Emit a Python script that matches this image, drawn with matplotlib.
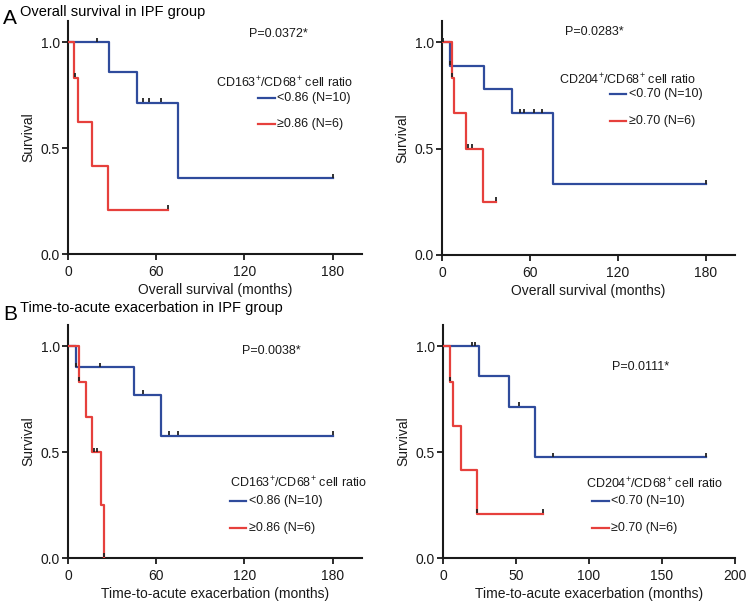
import numpy as np
import matplotlib
matplotlib.use("Agg")
import matplotlib.pyplot as plt

plt.rcParams['font.family'] = ['Liberation Sans', 'DejaVu Sans']
plt.rcParams['mathtext.fontset'] = 'custom'
plt.rcParams['mathtext.rm'] = 'Liberation Sans'

BLUE = '#2f4b9c'
RED = '#e6403c'

# --- data (months, survival fraction) ---
# A left: overall survival, CD163/CD68
a1_blue_t = [0, 28, 47, 75, 180]
a1_blue_s = [1.0, 0.857, 0.714, 0.357, 0.357]
a1_blue_c = [20, 51, 55, 63, 180]
a1_red_t = [0, 4, 7, 16.5, 27.5, 68]
a1_red_s = [1.0, 0.833, 0.625, 0.417, 0.208, 0.208]
a1_red_c = [5, 68]

# A right: overall survival, CD204/CD68
a2_blue_t = [0, 5.5, 28.5, 47.5, 75.5, 180]
a2_blue_s = [1.0, 0.889, 0.778, 0.667, 0.333, 0.333]
a2_blue_c = [5.5, 53, 56, 63, 68, 180]
a2_red_t = [0, 7, 8, 16.5, 28, 37]
a2_red_s = [1.0, 0.833, 0.667, 0.5, 0.25, 0.25]
a2_red_c = [0.5, 7, 18, 20.5, 37]

# B left: time-to-acute exacerbation, CD163/CD68
b1_blue_t = [0, 5.5, 45, 63.5, 180]
b1_blue_s = [1.0, 0.9, 0.771, 0.578, 0.578]
b1_blue_c = [5.5, 22, 51, 68.5, 75, 180]
b1_red_t = [0, 7.5, 12, 16.5, 22.5, 24.5]
b1_red_s = [1.0, 0.833, 0.667, 0.5, 0.25, 0.0]
b1_red_c = [7.5, 18, 20, 24.5]

# B right: time-to-acute exacerbation, CD204/CD68
b2_blue_t = [0, 24.5, 45, 63, 180]
b2_blue_s = [1.0, 0.857, 0.714, 0.476, 0.476]
b2_blue_c = [20, 22, 52, 75, 180]
b2_red_t = [0, 5, 7, 12.5, 23, 68.5]
b2_red_s = [1.0, 0.833, 0.625, 0.417, 0.208, 0.208]
b2_red_c = [5, 23.5, 68.5]

p_values = ['P=0.0372*', 'P=0.0283*', 'P=0.0038*', 'P=0.0111*']
legend_titles = [r'CD163$^{+}$/CD68$^{+}$ cell ratio', r'CD204$^{+}$/CD68$^{+}$ cell ratio',
                 r'CD163$^{+}$/CD68$^{+}$ cell ratio', r'CD204$^{+}$/CD68$^{+}$ cell ratio']
blue_labels = ['<0.86 (N=10)', '<0.70 (N=10)', '<0.86 (N=10)', '<0.70 (N=10)']
red_labels = ['\u22650.86 (N=6)', '\u22650.70 (N=6)', '\u22650.86 (N=6)', '\u22650.70 (N=6)']
xlabels = ['Overall survival (months)', 'Overall survival (months)',
           'Time-to-acute exacerbation (months)', 'Time-to-acute exacerbation (months)']
xticks_list = [[0, 60, 120, 180], [0, 60, 120, 180], [0, 60, 120, 180], [0, 50, 100, 150, 200]]

curves = [
    (a1_blue_t, a1_blue_s, a1_blue_c, a1_red_t, a1_red_s, a1_red_c),
    (a2_blue_t, a2_blue_s, a2_blue_c, a2_red_t, a2_red_s, a2_red_c),
    (b1_blue_t, b1_blue_s, b1_blue_c, b1_red_t, b1_red_s, b1_red_c),
    (b2_blue_t, b2_blue_s, b2_blue_c, b2_red_t, b2_red_s, b2_red_c),
]

# layout (pixels): left, right, bottom(y=0), top
W, H = 747, 604
boxes = [(68, 362, 254, 21), (442, 735, 255, 21), (68, 362, 558, 325), (443, 735, 558, 325)]
# text positions in data coords: P (x,y), legend title (x,y), line x0,x1, text x, row y's
text_pos = [
    (143, 1.04, 100.5, 0.81, 129.5, 140.5, 142.5, 0.735, 0.615),
    (104, 1.05, 80, 0.825, 114.5, 125.5, 127.5, 0.755, 0.63),
    (138, 0.976, 110, 0.357, 110, 121, 123, 0.267, 0.143),
    (135, 0.90, 98, 0.35, 102, 114, 115, 0.27, 0.143),
]

fig = plt.figure(figsize=(W / 100, H / 100), dpi=100)


def surv_at(t, s, c):
    idx = np.searchsorted(t, c, side='right') - 1
    return np.array(s)[idx]


for i in range(4):
    l, r, b, tp = boxes[i]
    ax = fig.add_axes([l / W, 1 - b / H, (r - l) / W, (b - tp) / H])
    bt, bs, bc, rt, rs, rc = curves[i]
    ax.step(bt, bs, where='post', color=BLUE, lw=1.6, zorder=2)
    ax.step(rt, rs, where='post', color=RED, lw=1.6, zorder=3)
    ax.plot(bc, surv_at(bt, bs, bc) + 0.012, ls='none', marker='|', ms=3.5, mew=1.3, color='#222222', zorder=4)
    ax.plot(rc, surv_at(rt, rs, rc) + 0.012, ls='none', marker='|', ms=3.5, mew=1.3, color='#222222', zorder=4)

    ax.set_xlim(0, 200)
    ax.set_ylim(0, 1.1)
    ax.set_xticks(xticks_list[i])
    ax.set_yticks([0.0, 0.5, 1.0])
    ax.set_yticklabels(['0.0', '0.5', '1.0'])
    for sp in ['top', 'right']:
        ax.spines[sp].set_visible(False)
    for sp in ['left', 'bottom']:
        ax.spines[sp].set_linewidth(1.5)
        ax.spines[sp].set_color('#1a1a1a')
    ax.tick_params(direction='out', length=4, width=1.3, labelsize=10, colors='#1a1a1a', pad=2)
    ax.tick_params(axis='x', pad=4)
    ax.set_xlabel(xlabels[i], fontsize=10, labelpad=3, color='#1a1a1a')
    ax.set_ylabel('Survival', fontsize=10, labelpad=4, color='#1a1a1a')

    px, py, tx, ty, lx0, lx1, lxt, y1, y2 = text_pos[i]
    ax.text(px, py, p_values[i], fontsize=9, ha='center', va='center', color='#1a1a1a')
    ax.text(tx, ty, legend_titles[i], fontsize=9, ha='left', va='center', color='#1a1a1a')
    ax.plot([lx0, lx1], [y1, y1], color=BLUE, lw=1.6)
    ax.plot([lx0, lx1], [y2, y2], color=RED, lw=1.6)
    ax.text(lxt, y1, blue_labels[i], fontsize=9, ha='left', va='center', color='#1a1a1a')
    ax.text(lxt, y2, red_labels[i], fontsize=9, ha='left', va='center', color='#1a1a1a')

fig.text(3 / W, 1 - 19 / H, 'A', fontsize=15, ha='left', va='center')
fig.text(20 / W, 1 - 12 / H, 'Overall survival in IPF group', fontsize=10.5, ha='left', va='center')
fig.text(3 / W, 1 - 314 / H, 'B', fontsize=15, ha='left', va='center')
fig.text(20 / W, 1 - 308 / H, 'Time-to-acute exacerbation in IPF group', fontsize=10.5, ha='left', va='center')

fig.savefig('out.png', dpi=100)
